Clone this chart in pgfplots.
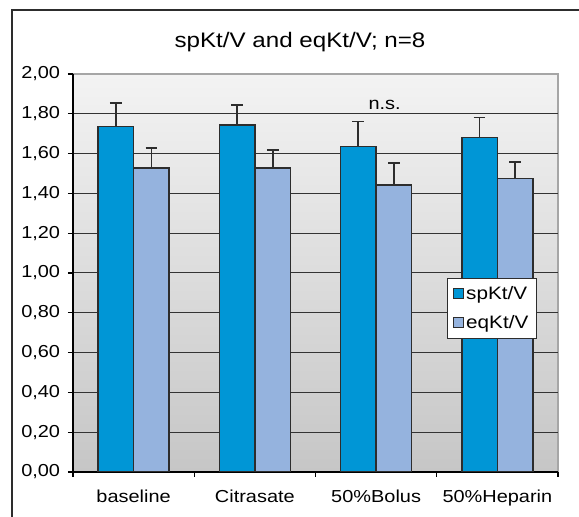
\documentclass[border=0pt]{standalone}
\usepackage{fontspec}
\setmainfont{Liberation Sans}[FakeStretch=1.15]
\usepackage{pgfplots}
\pgfplotsset{compat=1.18}
\definecolor{spblue}{RGB}{0,150,214}
\definecolor{eqblue}{RGB}{149,179,222}
\definecolor{edge}{RGB}{45,45,45}
\definecolor{bgtop}{RGB}{243,243,243}
\definecolor{bgbot}{RGB}{198,198,198}
\begin{document}
% 1 px of the reference = 0.75pt
\begin{tikzpicture}
\useasboundingbox (0pt,0pt) rectangle (434.25pt,387.75pt);
\draw[line width=1.2pt, color=edge] (9pt,-5pt) -- (9pt,380.25pt) -- (440pt,380.25pt);
\node[font=\fontsize{15.75}{18}\selectfont] at (225pt,356.25pt) {spKt/V and eqKt/V; n=8};
\begin{axis}[
    at={(54.75pt,33.75pt)}, anchor=south west, scale only axis,
    width=363.75pt, height=298.5pt,
    ybar=0pt, bar width=0.293,
    xmin=-0.5, xmax=3.5, ymin=0, ymax=2,
    axis background/.style={top color=bgtop, bottom color=bgbot, draw=black!35, line width=1.1pt},
    axis x line*=bottom, axis y line*=left,
    axis line style={draw=black, line width=0.9pt},
    tick align=outside, major tick length=3.75pt,
    ytick={0,0.2,0.4,0.6,0.8,1.0,1.2,1.4,1.6,1.8,2.0},
    ytick style={draw=black, line width=0.9pt},
    yticklabel style={/pgf/number format/fixed, /pgf/number format/fixed zerofill,
        /pgf/number format/precision=2, /pgf/number format/use comma,
        /pgf/number format/assume math mode=true,
        font=\fontsize{13}{15}\selectfont, xshift=-2.4pt},
    minor ytick={0.2,0.4,0.6,0.8,1.0,1.2,1.4,1.6,1.8},
    minor tick length=0pt,
    yminorgrids, minor grid style={draw=black!80, line width=0.75pt},
    xtick={0,1,2,3},
    xticklabels={baseline, Citrasate, 50\%Bolus, 50\%Heparin},
    xtick style={draw=none},
    xticklabel style={font=\fontsize{13}{15}\selectfont, yshift=-6.5pt},
    extra x ticks={-0.5,0.5,1.5,2.5,3.5},
    extra x tick labels={},
    extra x tick style={xtick style={draw=black, line width=0.9pt}},
    error bars/y dir=plus,
    error bars/y explicit,
    error bars/error bar style={line width=1.3pt, draw=edge},
    error bars/error mark options={rotate=90, line width=1.3pt, draw=edge, mark size=4.4pt},
    legend image code/.code={\draw[#1, draw=edge, line width=0.7pt] (0pt,-3.6pt) rectangle (7.2pt,3.6pt);},
    legend style={at={(0.864,0.412)}, anchor=center, draw=edge, line width=0.6pt, fill=white,
        font=\fontsize{13.5}{15}\selectfont, row sep=6.5pt, inner sep=4pt},
    legend cell align=left,
]
\addplot[fill=spblue, draw=edge, line width=1.1pt] coordinates {
    (0,1.735) +- (0,0.118)
    (1,1.744) +- (0,0.100)
    (2,1.635) +- (0,0.126)
    (3,1.682) +- (0,0.100)
};
\addplot[fill=eqblue, draw=edge, line width=1.1pt] coordinates {
    (0,1.528) +- (0,0.100)
    (1,1.528) +- (0,0.090)
    (2,1.442) +- (0,0.110)
    (3,1.476) +- (0,0.083)
};
\legend{spKt/V, eqKt/V}
\node[font=\fontsize{13}{15}\selectfont] at (axis cs:2.07,1.845) {n.s.};
\end{axis}
\end{tikzpicture}
\end{document}
